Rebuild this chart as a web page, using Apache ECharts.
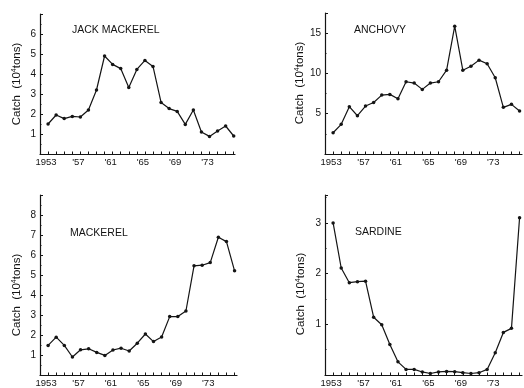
<!DOCTYPE html>
<html>
<head>
<meta charset="utf-8">
<script src="https://cdn.jsdelivr.net/npm/echarts@6/dist/echarts.min.js"></script>
<style>
html,body{margin:0;padding:0;background:#fff;}
#c{width:524px;height:388px;}
</style>
</head>
<body>
<div id="c"></div>
<script>
var years = [1953,1954,1955,1956,1957,1958,1959,1960,1961,1962,1963,1964,1965,1966,1967,1968,1969,1970,1971,1972,1973,1974,1975,1976];
var labeledYears = {1953:'1953',1957:"'57",1961:"'61",1965:"'65",1969:"'69",1973:"'73"};
var panelTitles = ['JACK MACKEREL','ANCHOVY','MACKEREL','SARDINE'];
var yAxisTitle = 'Catch  (10{s|4}tons)';
var jackMackerel = [1.5,1.95,1.77,1.88,1.85,2.2,3.2,4.9,4.48,4.27,3.32,4.23,4.68,4.38,2.58,2.27,2.13,1.48,2.2,1.1,0.88,1.15,1.4,0.9];
var anchovy = [2.64,3.68,5.87,4.75,5.95,6.4,7.31,7.4,6.86,8.97,8.8,8.02,8.8,8.97,10.4,15.87,10.4,10.9,11.65,11.2,9.46,5.79,6.16,5.33];
var mackerel = [1.48,1.89,1.48,0.9,1.26,1.31,1.13,0.98,1.25,1.34,1.2,1.59,2.05,1.67,1.9,2.92,2.92,3.2,5.46,5.49,5.62,6.89,6.67,5.21];
var sardine = [3.0,2.11,1.82,1.84,1.85,1.14,0.99,0.6,0.26,0.11,0.11,0.06,0.03,0.06,0.07,0.065,0.045,0.03,0.045,0.11,0.44,0.84,0.92,3.1];
var yTickLabels = [[1,2,3,4,5,6],[5,10,15],[1,2,3,4,5,6,7,8],[1,2,3]];

var seriesData = [jackMackerel, anchovy, mackerel, sardine];
var FONT = 'Liberation Sans, Arial, sans-serif';
var INK = '#141414';

var grids = [
  {left:40, top:14, width:195, height:140},
  {left:325, top:13, width:197, height:141},
  {left:40, top:195, width:197, height:182.5},
  {left:325, top:195, width:197, height:182.5}
];
var yMax = [7, 17.5, 9, 3.55];
var yInterval = [1, 5, 1, 1];
var xMax = [1976.16, 1976.3, 1976.3, 1976.3];

function pair(d){ return d.map(function(v,i){ return [years[i], v]; }); }

var chart = echarts.init(document.getElementById('c'), null, {renderer:'canvas'});
var option = {
  backgroundColor:'#fff',
  animation:false,
  title: panelTitles.map(function(t,i){
    var pos = [[72,25],[354,25],[70,228],[355,227]][i];
    return {text:t, left:pos[0], top:pos[1], padding:0,
      textStyle:{fontFamily:FONT, fontSize:10.5, fontWeight:'normal', color:INK}};
  }),
  grid: grids,
  xAxis: grids.map(function(g,i){
    return {type:'value', gridIndex:i, min:1952, max:xMax[i], interval:1,
      axisLine:{show:true, onZero:false, lineStyle:{color:INK, width:1.2}},
      axisTick:{show:true, inside:true, length:2.5, lineStyle:{color:INK, width:1}},
      splitLine:{show:false},
      axisLabel:{show:true, margin:3, fontFamily:FONT, fontSize:9.5, color:INK,
        padding:[0,4,0,0], showMinLabel:true, showMaxLabel:false,
        formatter:function(v){ return labeledYears[v] || ''; }}
    };
  }),
  yAxis: grids.map(function(g,i){
    var allowed = yTickLabels[i];
    return {type:'value', gridIndex:i, min:0, max:yMax[i], interval:yInterval[i],
      axisLine:{show:true, lineStyle:{color:INK, width:1.2}},
      axisTick:{show:true, inside:true, length:3, lineStyle:{color:INK, width:1}},
      minorTick:{show:true, splitNumber:2, length:1.5, lineStyle:{color:INK, width:1}},
      splitLine:{show:false},
      axisLabel:{show:true, margin:4, fontFamily:FONT, fontSize:10, color:INK,
        showMinLabel:false, showMaxLabel:false,
        formatter:function(v){ return allowed.indexOf(v) >= 0 ? String(v) : ''; }}
    };
  }),
  graphic: [[17,84],[300,83],[17,295],[301,294]].map(function(p){
    return {type:'text', x:p[0], y:p[1], rotation:Math.PI/2,
      style:{text:yAxisTitle, fontFamily:FONT, fontSize:11.5, fill:INK,
        align:'center', verticalAlign:'middle',
        rich:{s:{fontSize:7, fontFamily:FONT, fill:INK, verticalAlign:'top', padding:[0,0,5,0]}}}};
  }),
  series: seriesData.map(function(d,i){
    return {type:'line', xAxisIndex:i, yAxisIndex:i, data:pair(d),
      symbol:'circle', symbolSize:3.5, showSymbol:true,
      lineStyle:{color:INK, width:1.2},
      itemStyle:{color:INK}, clip:false};
  })
};
chart.setOption(option);
</script>
</body>
</html>
